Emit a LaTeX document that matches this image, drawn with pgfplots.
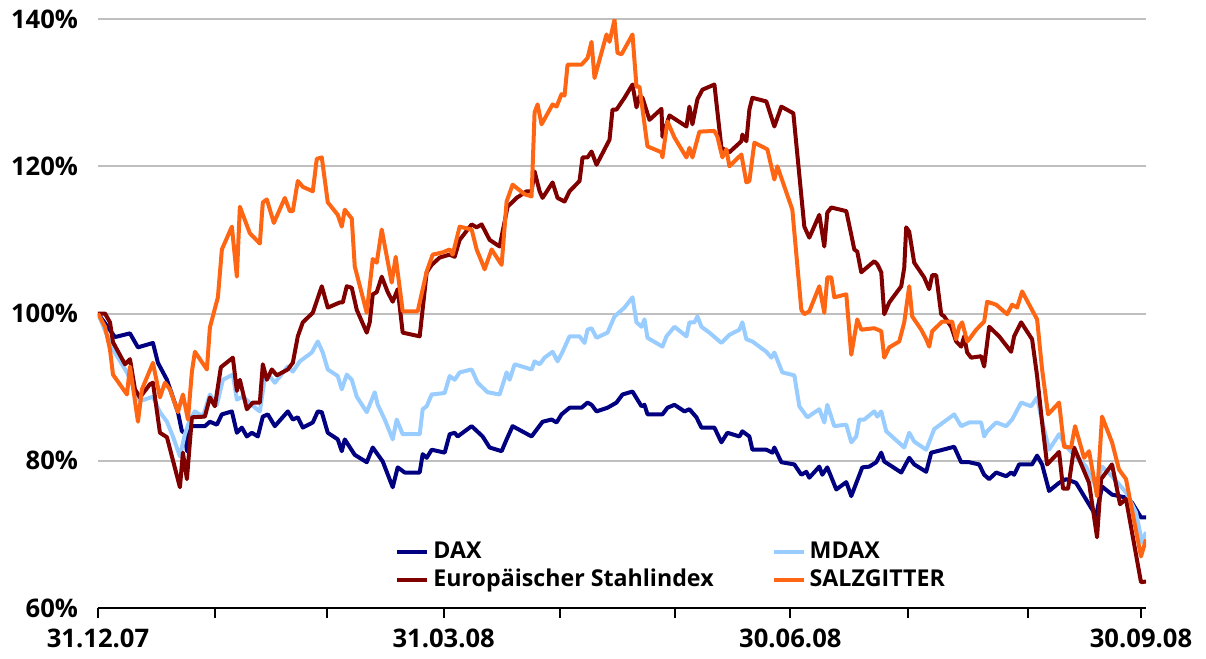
\documentclass[border=0pt]{standalone}
\usepackage{pgfplots}
\pgfplotsset{compat=1.18}
\usepackage{fontspec}
\setmainfont{Open Sans}
\definecolor{daxc}{HTML}{000080}
\definecolor{mdaxc}{HTML}{99CCFF}
\definecolor{stahlc}{HTML}{800000}
\definecolor{salzc}{HTML}{FF6614}
\definecolor{gridc}{HTML}{BFBFBF}
\begin{document}
\begin{tikzpicture}
\begin{axis}[
  scale only axis, anchor=south west, at={(0,0)},
  width=524pt, height=294.5pt,
  xmin=98, xmax=1147, ymin=60, ymax=140,
  axis x line*=bottom, axis y line*=left,
  y axis line style={draw=none},
  x axis line style={black, line width=1.2pt},
  xtick={98,215,327,444,560,676,791,909,1029,1142},
  xticklabels={31.12.07,,,31.03.08,,,30.06.08,,,30.09.08},
  ytick={60,80,100,120,140},
  yticklabels={60\%,80\%,100\%,120\%,140\%},
  ytick style={draw=none},
  xtick style={black, line width=1pt},
  tick align=outside, major tick length=5pt,
  ymajorgrids, grid style={gridc, line width=1pt},
  ticklabel style={font=\fontsize{12.8}{15}\selectfont\bfseries},
  yticklabel style={xshift=-1.5pt},
  xticklabel style={yshift=-2pt},
  legend style={draw=none, fill=none, at={(0.2834,0.12)}, anchor=north west,
    font=\fontsize{11.6}{14}\selectfont\bfseries, inner sep=0pt,
    /tikz/every even column/.append style={column sep=27pt}},
  legend columns=2, legend cell align=left,
  legend image code/.code={\draw[#1] (0pt,0pt) -- (15pt,0pt);},
  every axis plot/.append style={line width=2pt, line join=round},
]
\addplot[daxc] coordinates {
(98,100)(115,96.8)(130,97.3)(138,95.4)(153,96.0)(158,93.3)(167,91.0)(178,86.6)(182,84.0)(185,83.8)(187,81.3)(190,84.7)(205,84.7)(210,85.3)(217,84.9)(222,86.3)(232,86.7)(237,83.8)(242,84.5)(247,83.3)(252,83.8)(258,83.3)(263,86.0)(268,86.3)(275,84.7)(288,86.7)(293,85.6)(298,85.9)(303,84.5)(313,85.2)(318,86.7)(322,86.6)(328,83.8)(338,82.9)(342,81.3)(345,82.9)(355,80.8)(367,79.8)(373,81.8)(383,79.9)(393,76.4)(398,79.1)(405,78.4)(420,78.4)(423,80.9)(427,80.4)(432,81.5)(445,81.1)(450,83.6)(455,83.8)(458,83.3)(472,84.7)(483,83.3)(490,81.8)(502,81.3)(507,82.9)(513,84.7)(532,83.3)(543,85.3)(552,85.6)(557,85.2)(562,86.3)(570,87.2)(582,87.2)(588,87.9)(592,87.6)(597,86.7)(608,87.2)(617,87.9)(623,89.0)(633,89.4)(642,87.4)(645,87.6)(648,86.3)(663,86.3)(668,87.2)(675,87.6)(685,86.7)(690,87.0)(697,85.9)(702,84.5)(715,84.5)(722,82.5)(728,83.8)(740,83.3)(743,84.0)(750,83.3)(753,81.5)(767,81.5)(773,81.1)(775,81.8)(782,79.8)(795,79.5)(802,78.1)(807,78.5)(810,77.7)(820,79.2)(823,78.1)(828,79.1)(837,76.1)(847,77.1)(852,75.2)(863,79.1)(870,79.2)(877,79.8)(882,81.1)(885,79.9)(893,79.2)(902,78.4)(910,80.4)(915,79.5)(927,78.5)(932,81.1)(938,81.3)(955,81.9)(962,79.8)(970,79.8)(980,79.5)(985,78.1)(990,77.5)(997,78.4)(1007,77.9)(1012,78.4)(1015,78.1)(1020,79.5)(1033,79.5)(1038,80.7)(1043,79.5)(1050,75.9)(1060,77.0)(1067,77.5)(1077,77.0)(1085,75.2)(1097,72.5)(1103,76.5)(1113,75.4)(1127,75.0)(1133,74.3)(1142,72.3)(1147,72.3)
};
\addlegendentry{DAX}
\addplot[mdaxc] coordinates {
(98,100)(113,95.1)(127,92.0)(140,88.1)(153,88.7)(160,86.6)(167,85.3)(173,83.3)(180,80.6)(185,83.6)(190,85.6)(195,86.7)(203,86.0)(210,89.0)(217,87.6)(223,91.0)(233,91.7)(237,88.3)(243,88.7)(257,87.0)(260,86.7)(265,91.3)(270,91.5)(275,90.6)(288,92.8)(293,92.1)(300,93.5)(312,94.7)(318,96.2)(323,94.7)(328,92.4)(338,91.5)(342,89.7)(347,91.7)(352,91.0)(357,88.7)(367,86.6)(375,89.3)(378,87.6)(385,85.6)(393,82.9)(397,85.6)(403,83.6)(420,83.6)(423,87.0)(427,87.4)(432,89.0)(445,89.2)(450,91.5)(455,91.0)(460,92.0)(472,92.4)(478,90.6)(488,89.3)(500,89.0)(507,92.0)(510,91.0)(515,93.1)(532,92.4)(535,93.5)(540,93.1)(545,94.0)(553,94.8)(558,93.5)(563,94.8)(570,96.9)(580,96.9)(585,96.0)(588,97.8)(592,98.0)(597,96.7)(608,97.4)(615,99.6)(625,100.8)(633,102.2)(637,98.8)(642,98.2)(645,99.2)(648,96.7)(663,95.5)(667,96.9)(675,98.2)(687,96.9)(690,98.8)(695,98.8)(698,99.6)(702,98.2)(710,97.4)(722,96.0)(730,97.1)(740,97.8)(743,98.8)(747,96.5)(753,96.2)(767,94.8)(772,94.0)(775,94.7)(783,92.0)(795,91.6)(800,87.4)(808,85.9)(820,87.0)(825,85.2)(828,87.6)(835,84.7)(847,84.9)(852,82.5)(857,83.3)(860,85.6)(865,85.6)(875,86.7)(878,86.0)(882,86.7)(887,84.0)(905,81.8)(910,83.8)(915,82.6)(927,81.5)(935,84.3)(945,85.3)(955,86.3)(962,84.7)(970,85.2)(982,85.2)(985,83.3)(988,84.0)(997,85.2)(1007,84.7)(1013,85.6)(1022,87.9)(1032,87.4)(1038,88.6)(1042,86.0)(1050,81.5)(1060,83.6)(1067,81.9)(1073,81.1)(1087,79.2)(1097,76.5)(1103,79.2)(1113,77.9)(1127,75.7)(1137,73.0)(1143,68.9)(1147,70.3)
};
\addlegendentry{MDAX}
\addplot[stahlc] coordinates {
(98,100)(105,100)(110,98.8)(113,96.1)(125,93.1)(130,93.8)(135,89.7)(140,88.6)(150,90.4)(153,90.6)(160,83.8)(167,83.2)(180,76.4)(183,81.1)(187,77.5)(192,85.9)(205,86.0)(210,88.6)(215,87.4)(221,92.7)(233,94.0)(237,89.5)(240,91.0)(247,87.0)(253,87.9)(260,87.9)(263,93.1)(267,91.0)(272,92.4)(277,91.6)(288,92.4)(293,93.3)(298,96.9)(303,98.8)(313,100.1)(322,103.7)(328,100.8)(340,101.5)(343,101.5)(347,103.7)(352,103.5)(357,100.5)(367,97.4)(370,98.8)(373,102.6)(377,102.9)(382,105.0)(388,102.9)(393,101.6)(398,103.3)(403,97.4)(420,96.9)(427,105.6)(432,106.6)(440,107.6)(450,108.0)(455,107.7)(460,110.0)(472,112.1)(477,111.7)(482,112.1)(490,110.0)(500,109.1)(508,114.5)(517,115.7)(527,116.6)(532,116.6)(535,119.3)(540,116.6)(543,115.7)(553,117.8)(558,115.7)(565,115.2)(570,116.6)(580,118.0)(583,121.2)(588,121.2)(592,122.0)(597,120.2)(610,123.6)(613,127.7)(617,127.7)(625,129.3)(633,131.1)(637,128.0)(640,129.5)(643,129.3)(650,126.3)(662,127.8)(663,124.0)(670,126.9)(687,125.4)(690,128.1)(693,125.7)(698,129.1)(703,130.4)(715,131.1)(722,122.5)(730,121.9)(742,123.4)(743,124.3)(747,123.4)(750,127.7)(753,129.3)(767,128.8)(775,125.4)(782,128.1)(794,127.2)(805,111.8)(810,110.3)(820,113.4)(825,109.1)(828,113.7)(832,114.4)(847,113.9)(852,110.7)(855,108.7)(858,108.4)(862,105.6)(875,107.1)(878,106.7)(882,105.6)(885,99.9)(890,101.5)(902,103.7)(905,106.2)(907,111.7)(910,111.1)(915,106.9)(925,104.9)(930,103.3)(933,105.2)(937,105.2)(942,99.9)(945,99.6)(952,98.2)(957,96.2)(962,95.5)(965,96.9)(968,94.7)(972,94.0)(982,94.2)(985,92.8)(990,98.2)(1000,96.9)(1012,94.8)(1015,96.9)(1022,98.8)(1033,96.5)(1038,91.5)(1043,85.2)(1048,79.5)(1060,81.2)(1064,76.2)(1069,76.2)(1075,81.8)(1081,79.9)(1090,77.0)(1098,69.6)(1102,77.5)(1113,79.5)(1121,74.1)(1127,74.8)(1142,63.5)(1147,63.6)
};
\addlegendentry{Europäischer Stahlindex}
\addplot[salzc] coordinates {
(98,100)(105,98.2)(110,95.1)(113,91.7)(127,89.0)(130,92.8)(138,85.3)(142,89.7)(153,93.3)(160,88.6)(165,90.6)(170,89.7)(178,86.6)(183,89.0)(188,85.6)(192,92.1)(195,94.8)(207,92.4)(210,98.1)(218,102.2)(222,108.7)(232,111.8)(237,105.0)(240,114.5)(250,110.9)(260,109.5)(263,115.1)(267,115.5)(274,112.3)(285,115.7)(290,113.9)(293,113.9)(298,118.0)(303,117.2)(313,116.6)(317,121.0)(322,121.2)(328,115.1)(338,113.4)(342,111.8)(345,114.1)(352,112.9)(355,106.4)(367,100.1)(373,107.4)(377,106.9)(382,111.4)(392,104.2)(396,107.7)(403,100.3)(418,100.3)(427,105.7)(433,108.0)(443,108.3)(450,108.7)(453,108.0)(460,111.8)(472,111.4)(477,108.7)(480,107.7)(485,106.0)(492,108.7)(502,106.6)(507,115.2)(513,117.5)(525,116.2)(532,115.9)(535,127.3)(538,128.4)(542,125.7)(553,128.4)(557,128.1)(562,129.8)(565,129.6)(568,133.8)(582,133.8)(588,134.7)(592,136.9)(595,132.0)(607,137.9)(610,136.9)(615,139.9)(618,135.4)(622,135.2)(633,137.9)(637,130.8)(640,130.8)(648,122.7)(662,121.9)(663,121.2)(668,126.1)(675,123.9)(687,121.2)(690,122.5)(693,121.2)(700,124.7)(715,124.8)(718,124.0)(723,121.2)(727,122.3)(730,120.0)(742,121.6)(747,117.8)(750,118.0)(755,123.2)(768,122.3)(775,118.2)(778,120.0)(793,114.1)(802,100.5)(805,99.9)(810,100.3)(820,103.7)(825,100.1)(828,104.9)(832,104.9)(835,102.2)(847,102.6)(852,94.4)(858,99.2)(862,97.8)(875,98.0)(882,97.6)(885,94.0)(890,95.4)(900,96.2)(905,98.8)(910,103.7)(913,99.6)(922,97.8)(927,96.5)(930,95.5)(933,97.6)(943,98.9)(953,98.9)(957,96.5)(960,98.2)(963,98.8)(968,96.2)(970,96.5)(977,97.8)(985,98.9)(988,101.6)(997,101.2)(1008,99.9)(1013,101.2)(1018,100.8)(1023,103.0)(1038,99.2)(1043,92.4)(1049,86.3)(1060,87.9)(1065,81.9)(1072,81.8)(1076,84.7)(1085,80.4)(1090,81.3)(1098,75.2)(1103,86.0)(1113,82.5)(1120,78.8)(1127,77.5)(1142,67.0)(1147,69.3)
};
\addlegendentry{SALZGITTER}
\end{axis}
\path[use as bounding box] (-49pt,-25.5pt) rectangle (554pt,304pt);
\end{tikzpicture}
\end{document}
